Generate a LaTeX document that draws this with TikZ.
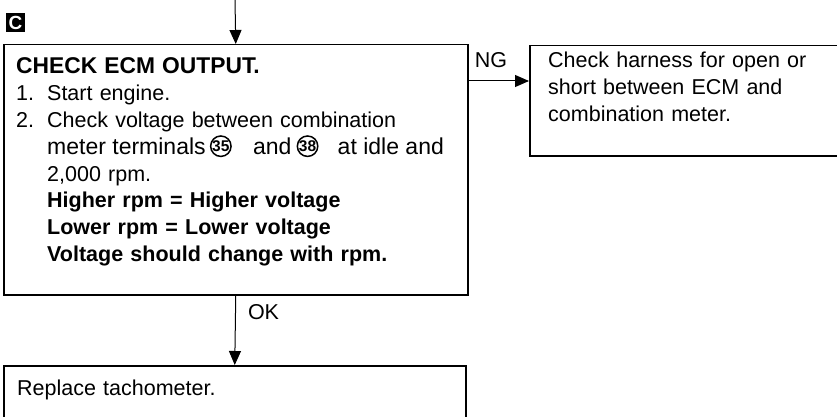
\documentclass[tikz,border=0pt]{standalone}
\usepackage{fontspec}
\setmainfont{Liberation Sans}
\usetikzlibrary{arrows.meta,positioning,calc}
\tikzset{
  >={Triangle[length=14pt,width=12pt]},
  box/.style={draw,line width=1.5pt,anchor=north west,inner sep=0pt,
    minimum width=#1},
  txt/.style={anchor=base west,inner sep=0pt,align=left,
    font=\fontsize{21.5}{26.9}\selectfont},
  wide txt/.style={anchor=base west,inner sep=0pt,font=\fontsize{23}{26.9}\selectfont},
  cnum/.style={circle,draw,line width=1.5pt,inner sep=0pt,minimum size=20pt,
    anchor=west,font=\fontsize{15.5}{15.5}\selectfont\bfseries},
  flow/.style={->,line width=1pt},
  lbl/.style={inner sep=0pt,font=\fontsize{21.5}{26.9}\selectfont},
  tagbox/.style={fill=black,text=white,minimum size=19pt,inner sep=0pt,
    font=\fontsize{19}{19}\selectfont\bfseries},
}
\begin{document}
\begin{tikzpicture}[x=1pt,y=-1pt]
  \clip (0,0) rectangle (837,417);
  % boxes
  \node[box=464pt,minimum height=250pt] (ecm) at (3,44) {};
  \node[box=330pt,minimum height=110pt] (harness) at (529,45) {};
  \node[box=462pt,minimum height=80pt] (tacho) at (3,365) {};
  \node[tagbox] (tagC) at (15.5,23) {C};
  % texts
  \node[txt,text width=445pt] (ecmtxt) at (16,73.5) {%
    {\fontsize{22.8}{26.9}\selectfont\bfseries CHECK ECM OUTPUT.}\\
    \makebox[31pt][l]{1.}Start engine.\\
    \makebox[31pt][l]{2.}Check voltage between combination\\
    \mbox{}\\
    \hspace*{31pt}2,000 rpm.\\
    \hspace*{31pt}\textbf{Higher rpm = Higher voltage}\\
    \hspace*{31pt}\textbf{Lower rpm = Lower voltage}\\
    \hspace*{31pt}\textbf{Voltage should change with rpm.}};
  % line with the terminal numbers
  \node[wide txt] (term) at (47,154.2) {meter terminals};
  \node[cnum] (c35) at ([xshift=4pt,yshift=8pt]term.base east) {35};
  \node[wide txt] (and1) at ([xshift=21pt,yshift=-8pt]c35.east) {and};
  \node[cnum] (c38) at ([xshift=5pt,yshift=8pt]and1.base east) {38};
  \node[wide txt] (idle) at ([xshift=19pt,yshift=-8pt]c38.east) {at idle and};
  \node[txt,text width=280pt] (harnesstxt) at (548,68)
    {Check harness for open or\\short between ECM and\\combination meter.};
  \node[txt,text width=400pt] (tachotxt) at (17,395) {Replace tachometer.};
  % connectors
  \coordinate (entry) at (235,0);
  \draw[flow] (entry) -- (ecm.north);
  \draw[flow] ([yshift=-37pt]ecm.north east) -- node[lbl,pos=0.37,above=13pt]{NG}
    ([yshift=-36pt]harness.north west);
  \draw[flow] (ecm.south) -- node[lbl,pos=0.24,anchor=west,xshift=12pt]{OK} (tacho.north);
\end{tikzpicture}
\end{document}
